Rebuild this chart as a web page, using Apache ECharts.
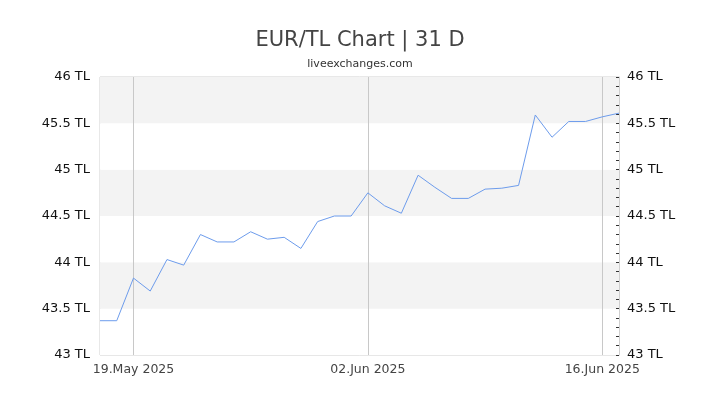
<!DOCTYPE html>
<html>
<head>
<meta charset="utf-8">
<script src="https://cdn.jsdelivr.net/npm/echarts@6/dist/echarts.min.js"></script>
<style>
  html, body { margin: 0; padding: 0; background: #fff; }
  #main { width: 720px; height: 405px; }
</style>
</head>
<body>
<div id="main"></div>
<script>
// daily dates, 17 May 2025 .. 17 Jun 2025
var dates = [
  '17.May 2025', '18.May 2025', '19.May 2025', '20.May 2025', '21.May 2025', '22.May 2025',
  '23.May 2025', '24.May 2025', '25.May 2025', '26.May 2025', '27.May 2025', '28.May 2025',
  '29.May 2025', '30.May 2025', '31.May 2025', '01.Jun 2025', '02.Jun 2025', '03.Jun 2025',
  '04.Jun 2025', '05.Jun 2025', '06.Jun 2025', '07.Jun 2025', '08.Jun 2025', '09.Jun 2025',
  '10.Jun 2025', '11.Jun 2025', '12.Jun 2025', '13.Jun 2025', '14.Jun 2025', '15.Jun 2025',
  '16.Jun 2025', '17.Jun 2025'
];
var rates = [
  43.37, 43.37, 43.83, 43.69, 44.03, 43.97, 44.30, 44.22, 44.22, 44.33, 44.25, 44.27,
  44.15, 44.44, 44.50, 44.50, 44.75, 44.61, 44.53, 44.94, 44.81, 44.69, 44.69, 44.79,
  44.80, 44.83, 45.59, 45.35, 45.52, 45.52, 45.57, 45.61
];
var labelDays = [2, 16, 30];

var chart = echarts.init(document.getElementById('main'));
var font = 'DejaVu Sans';
var yAxisBase = {
  type: 'value',
  min: 43,
  max: 46,
  interval: 0.5,
  axisLine: { show: false },
  axisTick: { show: false },
  splitLine: { show: false },
  axisLabel: {
    fontFamily: font,
    fontSize: 13,
    color: '#111',
    formatter: function (v) { return v + ' TL'; }
  }
};

chart.setOption({
  animation: false,
  title: {
    text: 'EUR/TL Chart | 31 D',
    subtext: 'liveexchanges.com',
    left: 'center',
    top: 25,
    itemGap: 8,
    textStyle: { fontFamily: font, fontSize: 21, fontWeight: 'normal', color: '#444' },
    subtextStyle: { fontFamily: font, fontSize: 11, color: '#333' }
  },
  grid: {
    left: 100, right: 101, top: 77, bottom: 50,
    show: true, borderColor: '#d0d0d0', borderWidth: 1
  },
  xAxis: {
    type: 'category',
    data: dates,
    boundaryGap: false,
    axisLine: { show: false },
    axisTick: { show: false },
    axisLabel: {
      interval: function (i) { return labelDays.indexOf(i) >= 0; },
      fontFamily: font,
      fontSize: 12.5,
      color: '#444',
      margin: 8
    },
    splitLine: {
      show: true,
      interval: function (i) { return labelDays.indexOf(i) >= 0; },
      lineStyle: { color: '#c8c8c8', width: 1 }
    }
  },
  yAxis: [
    Object.assign({}, yAxisBase, {
      position: 'left',
      axisLabel: Object.assign({}, yAxisBase.axisLabel, { margin: 10 }),
      splitArea: { show: true, areaStyle: { color: ['#ffffff', '#f3f3f3'] } }
    }),
    Object.assign({}, yAxisBase, {
      position: 'right',
      axisLine: { show: true, lineStyle: { color: '#d0d0d0' } },
      axisTick: { show: true, inside: true, length: 3, lineStyle: { color: '#333' } },
      minorTick: { show: true, splitNumber: 5, length: 3, lineStyle: { color: '#333' } },
      axisLabel: Object.assign({}, yAxisBase.axisLabel, { margin: 8 })
    })
  ],
  series: [{
    type: 'line',
    data: rates,
    yAxisIndex: 0,
    showSymbol: false,
    lineStyle: { color: '#6d9cec', width: 1 }
  }]
});
</script>
</body>
</html>
